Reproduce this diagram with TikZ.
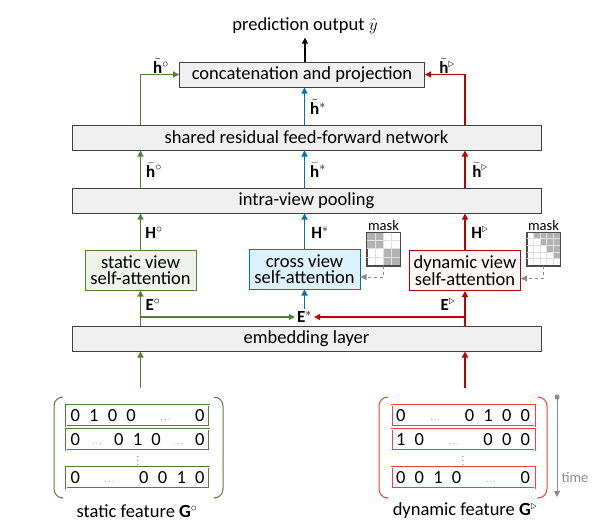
\documentclass[tikz,border=0pt]{standalone}
\usepackage{fontspec}
\setmainfont{Carlito}
\usetikzlibrary{arrows.meta,positioning}
\definecolor{vgreen}{HTML}{548235}
\definecolor{vblue}{HTML}{0070C0}
\definecolor{vred}{HTML}{C00000}
\definecolor{vpink}{HTML}{FF3B3B}
\definecolor{vgray}{HTML}{8C8C8C}
\definecolor{fgreen}{HTML}{EEF4EA}
\definecolor{fblue}{HTML}{DDF2FC}
\definecolor{fred}{HTML}{FFF6F6}
\newcommand{\lbl}{\fontsize{17}{17}\selectfont}
\begin{document}
\begin{tikzpicture}[x=1pt,y=-1pt,>={Triangle[length=6pt,width=6pt]},
  font=\fontsize{18.5}{19}\selectfont]
\useasboundingbox (0,0) rectangle (610,522);

% wide layers
\begin{scope}[every node/.style={draw=black!75,fill=black!6,line width=1pt,minimum height=25pt,inner sep=0pt}]
    \node[minimum width=245pt] (cp) at (302,74.5) {concatenation and projection};
    \node[minimum width=469pt] (ffn) at (306.5,137.5) {shared residual feed-forward network};
    \node[minimum width=469pt] (pool) at (306.5,200.5) {intra-view pooling};
    \node[minimum width=469pt] (emb) at (306.5,338.5) {embedding layer};
\end{scope}

\node (out) at (305,26) {prediction output $\hat{y}$};

% attention blocks
\begin{scope}[every node/.style={line width=1pt,minimum width=111pt,minimum height=40pt,align=center,inner sep=0pt,font=\fontsize{18.5}{16.5}\selectfont}]
    \node[draw=vgreen,fill=fgreen] (sa) at (140.5,270) {static view\\self-attention};
    \node[draw=vblue,fill=fblue] (ca) at (304.5,269) {cross view\\self-attention};
    \node[draw=vred,fill=fred] (da) at (465,270.5) {dynamic view\\self-attention};
\end{scope}

% masks
\begin{scope}[every node/.style={draw=black!70,line width=0.8pt,minimum size=33pt,inner sep=0pt}]
    \node (mc) at (383.5,249) {};
    \node (md) at (543.5,249) {};
\end{scope}
\begin{scope}[shift={(mc.north west)}]
    \foreach \i/\j in {0/0,0/1,1/0,1/1,2/2,2/3,3/2,3/3}
        {\fill[black!30] (\j*8.25,\i*8.25) rectangle ++(8.25,8.25);}
    \foreach \k in {1,...,3} {
        \draw[black!12,line width=0.5pt] (\k*8.25,0) -- (\k*8.25,33);
        \draw[black!12,line width=0.5pt] (0,\k*8.25) -- (33,\k*8.25);
    }
\end{scope}
\begin{scope}[shift={(md.north west)}]
    \foreach \i/\j in {0/1,0/2,0/3,0/4,1/2,1/3,1/4,2/3,2/4,3/4}
        {\fill[black!30] (\j*6.6,\i*6.6) rectangle ++(6.6,6.6);}
    \foreach \k in {1,...,4} {
        \draw[black!12,line width=0.5pt] (\k*6.6,0) -- (\k*6.6,33);
        \draw[black!12,line width=0.5pt] (0,\k*6.6) -- (33,\k*6.6);
    }
\end{scope}
\draw[black!70,line width=0.8pt] (mc.north west) rectangle (mc.south east);
\draw[black!70,line width=0.8pt] (md.north west) rectangle (md.south east);
\node[font=\fontsize{14.5}{14}\selectfont,inner sep=1pt] (mcl) [above=0pt of mc] {mask};
\node[font=\fontsize{14.5}{14}\selectfont,inner sep=1pt] (mdl) [above=0pt of md] {mask};

% labels
\begin{scope}[every node/.style={font=\lbl,inner sep=0pt}]
    \node (ho1) at (161,66) {$\tilde{\mathbf{h}}^{\circ}$};
    \node (hs1) at (318,107) {$\tilde{\mathbf{h}}^{*}$};
    \node (hd1) at (447,66) {$\tilde{\mathbf{h}}^{\triangleright}$};
    \node (ho2) at (154,170) {$\bar{\mathbf{h}}^{\circ}$};
    \node (hs2) at (318,170) {$\bar{\mathbf{h}}^{*}$};
    \node (hd2) at (480,170) {$\bar{\mathbf{h}}^{\triangleright}$};
    \node (Ho) at (154,233) {$\mathbf{H}^{\circ}$};
    \node (Hs) at (320,233) {$\mathbf{H}^{*}$};
    \node (Hd) at (480,233) {$\mathbf{H}^{\triangleright}$};
    \node (Eo) at (153,305) {$\mathbf{E}^{\circ}$};
    \node (Ed) at (448,305) {$\mathbf{E}^{\triangleright}$};
    \node[inner sep=2pt] (es) at (304.5,317) {$\mathbf{E}^{*}$};
\end{scope}

% matrices
\begin{scope}[every node/.style={line width=0.6pt,double=white,double distance=0.8pt,minimum width=143pt,minimum height=21pt,text width=134pt,inner sep=0pt,font=\fontsize{18.5}{18}\selectfont}]
    \node[draw=vgreen] (s1) at (137.5,415.5) {0\enspace1\enspace0\enspace0\hfill{\scriptsize$\cdots$}\hfill0};
    \node[draw=vgreen] (s2) at (137.5,439.5) {0\hfill{\scriptsize$\cdots$}\hfill0\enspace1\enspace0\hfill{\scriptsize$\cdots$}\hfill0};
    \node[draw=vgreen] (s3) at (137.5,477.5) {0\hfill{\scriptsize$\cdots$}\hfill0\enspace0\enspace1\enspace0};
    \node[draw=vpink] (d1) at (463,415.5) {0\hfill{\scriptsize$\cdots$}\hfill0\enspace1\enspace0\enspace0};
    \node[draw=vpink] (d2) at (463,439.5) {1\enspace0\hfill{\scriptsize$\cdots$}\hfill0\enspace0\enspace0};
    \node[draw=vpink] (d3) at (463,477.5) {0\enspace0\enspace1\enspace0\hfill{\scriptsize$\cdots$}\hfill0};
\end{scope}
\node[font=\scriptsize] (sv) at (138,458) {$\vdots$};
\node[font=\scriptsize] (dv) at (463,458) {$\vdots$};
\draw[vgreen,line width=1pt,rounded corners=9pt] (62,397) -- (54,397) -- (54,498) -- (62,498);
\draw[vgreen,line width=1pt,rounded corners=9pt] (215,397) -- (223,397) -- (223,498) -- (215,498);
\draw[vpink,line width=1pt,rounded corners=9pt] (387,397) -- (379,397) -- (379,498) -- (387,498);
\draw[vpink,line width=1pt,rounded corners=9pt] (539,397) -- (547,397) -- (547,498) -- (539,498);
\node (sf) at (137,511) {static feature \textbf{G}$^{\circ}$};
\node (df) at (465,511) {dynamic feature \textbf{G}$^{\triangleright}$};

% time axis
\coordinate (t0) at (557,397);
\coordinate (t1) at (557,497);
\fill[vgray] (t0) circle (2.5pt);
\draw[->,vgray,line width=0.8pt] (t0) -- (t1);
\node[text=vgray,font=\fontsize{14.5}{14}\selectfont] (tm) at (575,478) {time};

% connectors
\coordinate (gin) at (140.5,388);
\coordinate (rin) at (465,388);
\begin{scope}[line width=1.3pt]
    \draw[->] (out.south |- cp.north) -- (out.south);
    \draw[->,vgreen] (sa |- ffn.north) |- (cp.west);
    \draw[->,vblue] (ca |- ffn.north) -- (ca |- cp.south);
    \draw[->,vred] (da |- ffn.north) |- (cp.east);

    \draw[->,vgreen] (sa |- pool.north) -- (sa |- ffn.south);
    \draw[->,vblue] (ca |- pool.north) -- (ca |- ffn.south);
    \draw[->,vred] (da |- pool.north) -- (da |- ffn.south);

    \draw[->,vgreen] (sa.north) -- (sa |- pool.south);
    \draw[->,vblue] (ca.north) -- (ca |- pool.south);
    \draw[->,vred] (da.north) -- (da |- pool.south);

    \draw[->,vgreen] (sa |- emb.north) -- (sa.south);
    \draw[->,vgreen] (sa |- es) -- (es.west);
    \draw[->,vblue] (es.north) -- (ca.south);
    \draw[->,vred] (da |- emb.north) -- (da.south);
    \draw[->,vred] (da |- es) -- (es.east);

    \draw[->,vgreen] (gin) -- (gin |- emb.south);
    \draw[->,vred] (rin) -- (rin |- emb.south);
\end{scope}
\draw[->,vgray,dashed,line width=1pt] (mc.south) |- ([yshift=-8pt]ca.east);
\draw[->,vgray,dashed,line width=1pt] (md.south) |- ([yshift=-8pt]da.east);

\end{tikzpicture}
\end{document}
